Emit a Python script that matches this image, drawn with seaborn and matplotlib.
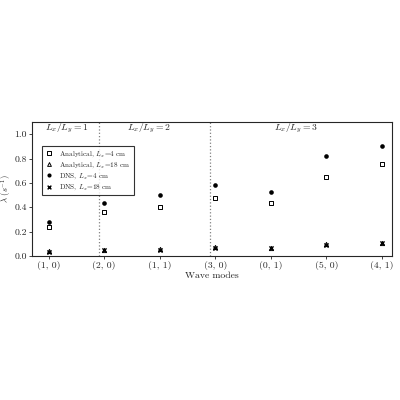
import numpy as np
import pandas as pd
import seaborn as sns
import matplotlib
matplotlib.use('Agg')
import matplotlib.pyplot as plt

# wave modes and growth rates
modes = ['(1, 0)', '(2, 0)', '(1, 1)', '(3, 0)', '(0, 1)', '(5, 0)', '(4, 1)']
ana_4 = [0.235, 0.358, 0.40, 0.473, 0.434, 0.645, 0.754]
ana_18 = [0.040, 0.050, 0.055, 0.070, 0.065, 0.095, 0.110]
dns_4 = [0.280, 0.437, 0.50, 0.580, 0.527, 0.817, 0.900]
dns_18 = [0.030, 0.048, 0.052, 0.068, 0.062, 0.092, 0.105]
ratio_labels = [r'$L_x/L_y=1$', r'$L_x/L_y=2$', r'$L_x/L_y=3$']
ratio_pos = [0.33, 1.81, 4.45]
dividers = [0.9, 2.9]

sns.set_style('ticks')
plt.rcParams['font.family'] = 'serif'
plt.rcParams['font.serif'] = ['cmr10', 'DejaVu Serif']
plt.rcParams['mathtext.fontset'] = 'cm'
plt.rcParams['axes.formatter.use_mathtext'] = True

rows = []
for name, vals in [(r'Analytical, $L_x$=4 cm', ana_4),
                   (r'Analytical, $L_x$=18 cm', ana_18),
                   (r'DNS, $L_x$=4 cm', dns_4),
                   (r'DNS, $L_x$=18 cm', dns_18)]:
    for i, v in enumerate(vals):
        rows.append({'x': i, 'y': v, 'series': name})
df = pd.DataFrame(rows)

fig = plt.figure(figsize=(4, 4), dpi=100)
ax = fig.add_axes([0.08, 0.36, 0.9, 0.335])

styles = {
    r'Analytical, $L_x$=4 cm': dict(marker='s', facecolors='white', edgecolors='black', s=9, linewidths=0.7),
    r'Analytical, $L_x$=18 cm': dict(marker='^', facecolors='white', edgecolors='black', s=9, linewidths=0.7),
    r'DNS, $L_x$=4 cm': dict(marker='o', color='black', s=11, linewidths=0),
    r'DNS, $L_x$=18 cm': dict(marker='x', color='black', s=9, linewidths=1.0),
}
for name, st in styles.items():
    sub = df[df['series'] == name]
    sns.scatterplot(data=sub, x='x', y='y', ax=ax, label=name, **st)

for d in dividers:
    ax.axvline(d, color='gray', linestyle=':', linewidth=0.9)
for lab, p in zip(ratio_labels, ratio_pos):
    ax.text(p, 1.05, lab, ha='center', va='center', fontsize=7)

ax.set_xlim(-0.3, 6.18)
ax.set_ylim(0, 1.1)
ax.set_xticks(range(len(modes)))
ax.set_xticklabels(modes)
ax.set_yticks([0.0, 0.2, 0.4, 0.6, 0.8, 1.0])
ax.set_yticklabels(['0.0', '0.2', '0.4', '0.6', '0.8', '1.0'])
ax.tick_params(labelsize=7, length=2, width=0.6, pad=1.5)
ax.set_xlabel('Wave modes', fontsize=7, labelpad=1)
ax.set_ylabel(r'$\lambda$ ($s^{-1}$)', fontsize=6.2)
ax.yaxis.set_label_coords(-0.05, 0.5)
for sp in ax.spines.values():
    sp.set_linewidth(0.8)

leg = ax.legend(loc='upper left', bbox_to_anchor=(0.028, 0.82), fontsize=5.2,
                frameon=True, fancybox=False, edgecolor='black',
                handlelength=1.2, handletextpad=0.8, borderpad=0.4,
                labelspacing=0.2, borderaxespad=0.0, markerscale=0.9)
leg.get_frame().set_linewidth(0.8)
leg.set_zorder(5)

fig.savefig('out.png', dpi=100)
